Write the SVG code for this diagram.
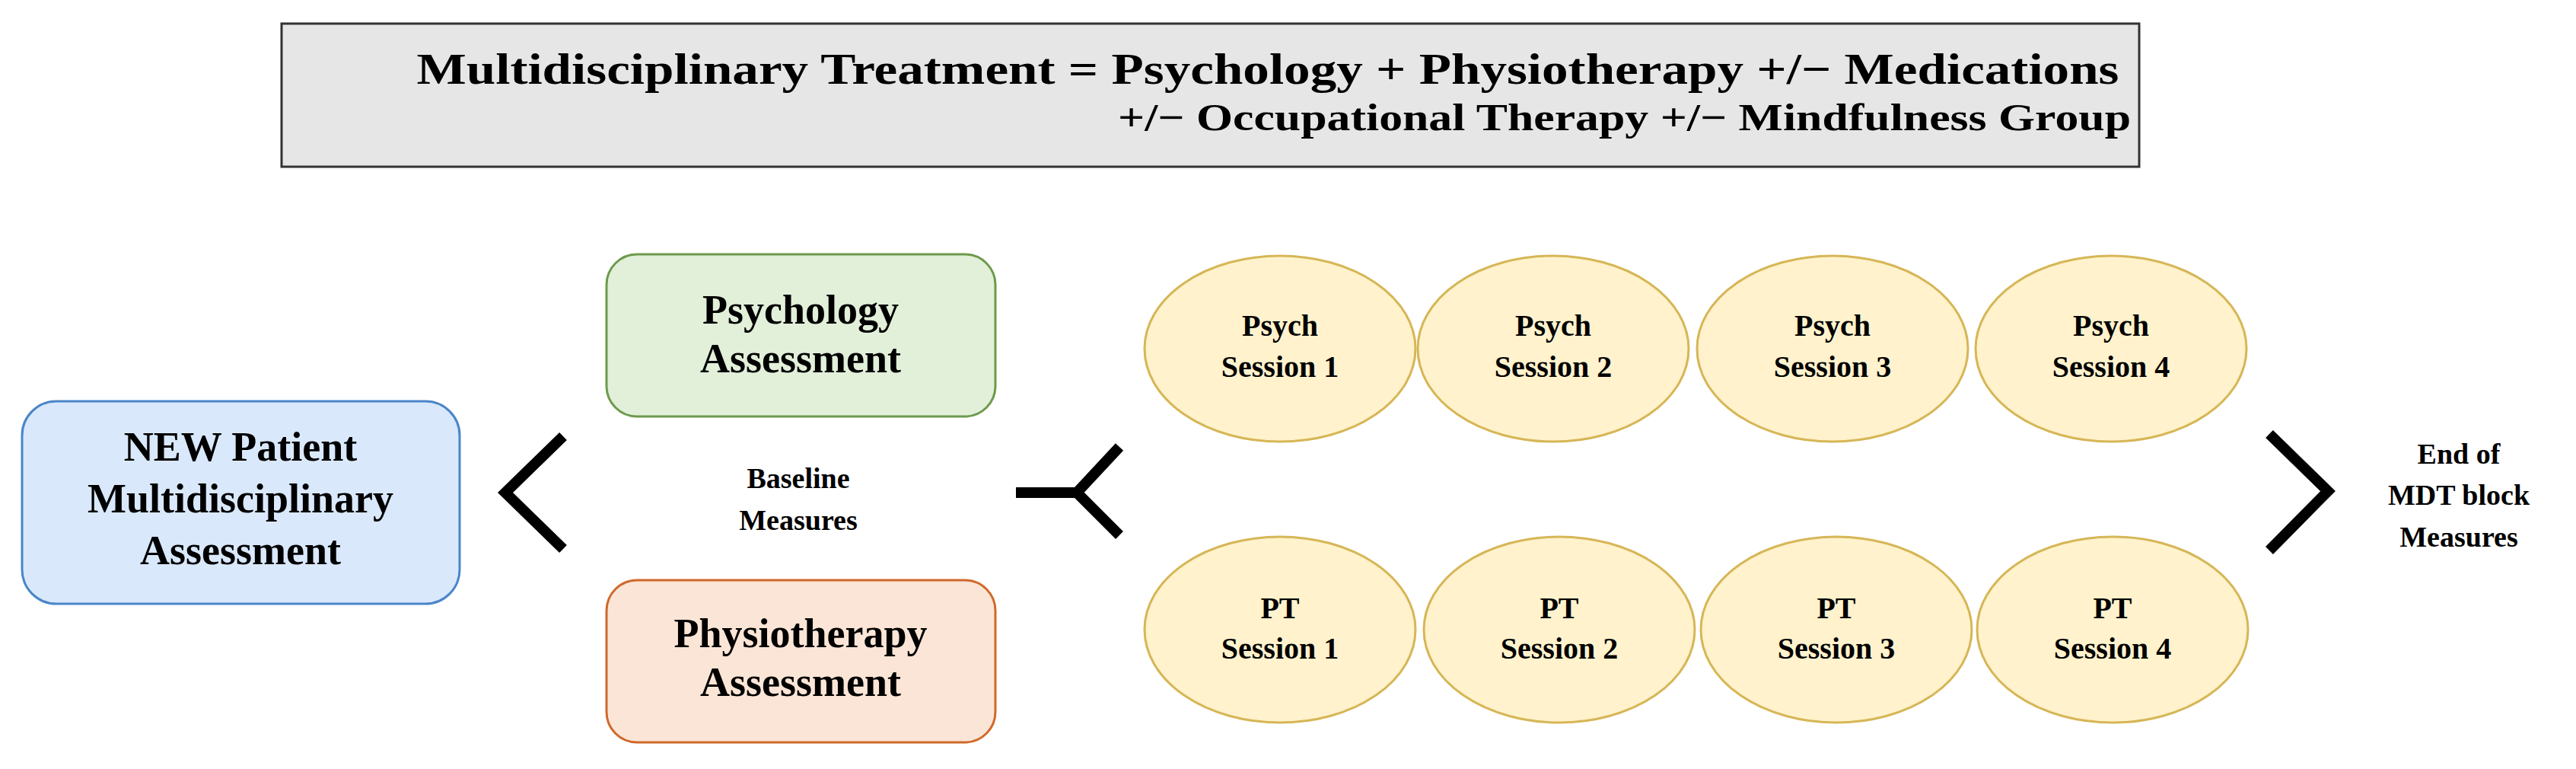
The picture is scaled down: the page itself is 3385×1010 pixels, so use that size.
<svg xmlns="http://www.w3.org/2000/svg" width="3385" height="1010" viewBox="0 0 3385 1010">
<style>
text{font-family:"Liberation Serif","DejaVu Serif",serif;font-weight:bold;fill:#000;text-anchor:middle}
.box{font-size:54px}
.ses{font-size:40px}
.sm{font-size:38px}
.ell{fill:#fff2cc;stroke:#d6b656;stroke-width:3}
.chev{fill:none;stroke:#000;stroke-width:14}
</style>
<rect width="3385" height="1010" fill="#fff"/>
<g id="title">
<rect x="370" y="31" width="2441" height="188" fill="#e6e6e6" stroke="#333" stroke-width="3"/>
<text x="1666" y="110" font-size="58" textLength="2237" lengthAdjust="spacingAndGlyphs">Multidisciplinary Treatment = Psychology + Physiotherapy +/− Medications</text>
<text x="2800" y="171" font-size="50" style="text-anchor:end" textLength="1331" lengthAdjust="spacingAndGlyphs">+/− Occupational Therapy +/− Mindfulness Group</text>
</g>
<g id="new-patient">
<rect x="29" y="527" width="575" height="266" rx="45" fill="#dae8fc" stroke="#4a86c8" stroke-width="3"/>
<text class="box" x="316" y="605">NEW Patient</text>
<text class="box" x="316" y="673">Multidisciplinary</text>
<text class="box" x="316" y="741">Assessment</text>
</g>
<g id="psych-assess">
<rect x="797" y="334" width="511" height="213" rx="40" fill="#e2efd9" stroke="#6d9a4c" stroke-width="3"/>
<text class="box" x="1052" y="425">Psychology</text>
<text class="box" x="1052" y="489">Assessment</text>
</g>
<g id="physio-assess">
<rect x="797" y="762" width="511" height="213" rx="40" fill="#fbe5d6" stroke="#d0692a" stroke-width="3"/>
<text class="box" x="1052" y="850">Physiotherapy</text>
<text class="box" x="1052" y="914">Assessment</text>
</g>
<g id="baseline">
<text class="sm" x="1049" y="641">Baseline</text>
<text class="sm" x="1049" y="696">Measures</text>
</g>
<g id="end-measures">
<text class="sm" x="3231" y="609">End of</text>
<text class="sm" x="3231" y="663">MDT block</text>
<text class="sm" x="3231" y="718">Measures</text>
</g>
<g id="psych-sessions">
<g id="psych1"><ellipse class="ell" cx="1682" cy="458" rx="178" ry="122"/><text class="ses" x="1682" y="441">Psych</text><text class="ses" x="1682" y="495">Session 1</text></g>
<g id="psych2"><ellipse class="ell" cx="2041" cy="458" rx="178" ry="122"/><text class="ses" x="2041" y="441">Psych</text><text class="ses" x="2041" y="495">Session 2</text></g>
<g id="psych3"><ellipse class="ell" cx="2408" cy="458" rx="178" ry="122"/><text class="ses" x="2408" y="441">Psych</text><text class="ses" x="2408" y="495">Session 3</text></g>
<g id="psych4"><ellipse class="ell" cx="2774" cy="458" rx="178" ry="122"/><text class="ses" x="2774" y="441">Psych</text><text class="ses" x="2774" y="495">Session 4</text></g>
</g>
<g id="pt-sessions">
<g id="pt1"><ellipse class="ell" cx="1682" cy="827" rx="178" ry="122"/><text class="ses" x="1682" y="812">PT</text><text class="ses" x="1682" y="865">Session 1</text></g>
<g id="pt2"><ellipse class="ell" cx="2049" cy="827" rx="178" ry="122"/><text class="ses" x="2049" y="812">PT</text><text class="ses" x="2049" y="865">Session 2</text></g>
<g id="pt3"><ellipse class="ell" cx="2413" cy="827" rx="178" ry="122"/><text class="ses" x="2413" y="812">PT</text><text class="ses" x="2413" y="865">Session 3</text></g>
<g id="pt4"><ellipse class="ell" cx="2776" cy="827" rx="178" ry="122"/><text class="ses" x="2776" y="812">PT</text><text class="ses" x="2776" y="865">Session 4</text></g>
</g>
<g id="connectors">
<polyline class="chev" points="740,573 664,647 740,721"/>
<path class="chev" d="M1335,647 H1415 M1471,587 L1415,647 L1471,703"/>
<polyline class="chev" points="2982,570 3059,645 2982,723"/>
</g>
</svg>
